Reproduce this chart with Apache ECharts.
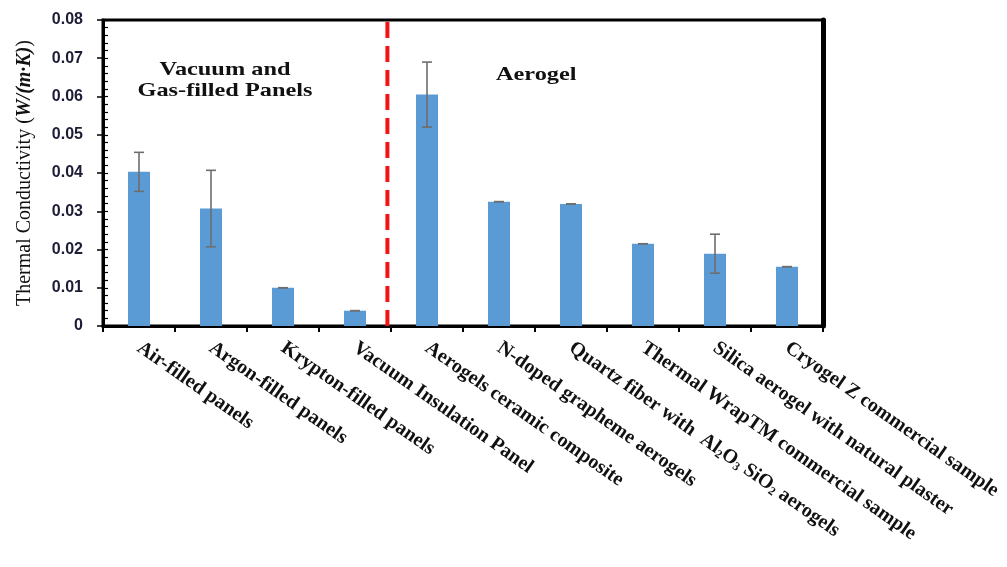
<!DOCTYPE html>
<html>
<head>
<meta charset="utf-8">
<script src="https://cdn.jsdelivr.net/npm/echarts@6/dist/echarts.min.js"></script>
<style>
  html, body { margin: 0; padding: 0; background: #ffffff; }
  #chart { width: 1007px; height: 567px; }
</style>
</head>
<body>
<div id="chart"></div>
<script>
// Thermal conductivity of insulation materials, W/(m·K)
const categories = [
  'Air-filled panels',
  'Argon-filled panels',
  'Krypton-filled panels',
  'Vacuum Insulation Panel',
  'Aerogels ceramic composite',
  'N-doped grapheme aerogels',
  'Quartz fiber with  Al2O3 SiO2 aerogels',
  'Thermal WrapTM commercial sample',
  'Silica aerogel with natural plaster',
  'Cryogel Z commercial sample'
];
const conductivity = [0.0403, 0.0307, 0.0100, 0.0040, 0.0605, 0.0325, 0.0319, 0.0215, 0.0189, 0.0155];
const errorMargin  = [0.0051, 0.0100, 0.0000, 0.0000, 0.0085, 0.0000, 0.0000, 0.0000, 0.0051, 0.0000];
const yTicks = [0, 0.01, 0.02, 0.03, 0.04, 0.05, 0.06, 0.07, 0.08];
// boundary between panel-type and aerogel-type materials, in category units
const groupDivider = 3.95;

const chart = echarts.init(document.getElementById('chart'), null, { renderer: 'canvas' });

const yMin = yTicks[0];
const yMax = yTicks[yTicks.length - 1];
const yStep = yTicks[1] - yTicks[0];

const errorData = conductivity.map((v, i) => [i, v - errorMargin[i], v + errorMargin[i]]);

function categoryLabel(value) {
  if (value.indexOf('Al2O3') >= 0) {
    return '{t|Quartz fiber with  Al}{s|2}{t|O}{s|3}{t| SiO}{s|2}{t| aerogels}';
  }
  return '{t|' + value + '}';
}

const serif = 'Liberation Serif';

const option = {
  animation: false,
  backgroundColor: '#ffffff',
  grid: {
    left: 103, right: 184, top: 20, bottom: 241, containLabel: false,
    show: true, backgroundColor: 'transparent', borderColor: '#000', borderWidth: 3
  },
  xAxis: [
    {
      type: 'category',
      data: categories,
      position: 'bottom',
      axisLine: { show: true, lineStyle: { color: '#000', width: 3 } },
      axisTick: { show: true, alignWithLabel: false, length: 6, lineStyle: { color: '#000', width: 2 } },
      axisLabel: {
        interval: 0,
        rotate: -35,
        margin: 20,
        formatter: categoryLabel,
        rich: {
          t: { fontFamily: serif, fontWeight: 'bold', fontSize: 20, color: '#111' },
          s: { fontFamily: serif, fontWeight: 'bold', fontSize: 12, color: '#111', verticalAlign: 'bottom', padding: [9, 0, 0, 0] }
        }
      },
      splitLine: { show: false }
    },
    {
      type: 'value',
      min: 0,
      max: categories.length,
      position: 'top',
      axisLine: { show: true, onZero: false, lineStyle: { color: '#000', width: 2 } },
      axisTick: { show: false },
      axisLabel: { show: false },
      splitLine: { show: false }
    }
  ],
  yAxis: [
    {
      type: 'value',
      min: yMin,
      max: yMax,
      interval: yStep,
      position: 'left',
      name: '{r|Thermal Conductivity (}{i|W/(m·K)}{r|)}',
      nameLocation: 'middle',
      nameGap: 68,
      nameRotate: 90,
      nameTextStyle: {
        rich: {
          r: { fontFamily: serif, fontSize: 20, color: '#111' },
          i: { fontFamily: serif, fontSize: 20, fontWeight: 'bold', fontStyle: 'italic', color: '#111' }
        }
      },
      axisLine: { show: true, onZero: false, lineStyle: { color: '#000', width: 3 } },
      axisTick: { show: true, inside: false, length: 6, lineStyle: { color: '#000', width: 1.5 } },
      axisLabel: {
        margin: 20,
        fontFamily: 'Liberation Sans',
        fontWeight: 'bold',
        fontSize: 16,
        color: '#1c1c36',
        formatter: v => (v === 0 ? '0' : v.toFixed(2))
      },
      splitLine: { show: false }
    },
    {
      type: 'value',
      min: yMin,
      max: yMax,
      position: 'right',
      axisLine: { show: true, onZero: false, lineStyle: { color: '#000', width: 5 } },
      axisTick: { show: false },
      axisLabel: { show: false },
      splitLine: { show: false }
    },
    {
      // inner minor ticks along the left axis
      type: 'value',
      min: yMin,
      max: yMax,
      interval: yStep / 5,
      position: 'left',
      axisLine: { show: false },
      axisTick: { show: true, inside: true, length: 5, lineStyle: { color: '#000', width: 1.2 } },
      axisLabel: { show: false },
      splitLine: { show: false }
    }
  ],
  graphic: [
    {
      type: 'text',
      x: 225, y: 60,
      scaleX: 1.28,
      style: {
        text: 'Vacuum and\nGas-filled Panels',
        fontFamily: serif,
        fontWeight: 'bold',
        fontSize: 19,
        lineHeight: 21,
        fill: '#111',
        align: 'center',
        verticalAlign: 'top'
      }
    },
    {
      type: 'text',
      x: 496, y: 66,
      scaleX: 1.28,
      style: {
        text: 'Aerogel',
        fontFamily: serif,
        fontWeight: 'bold',
        fontSize: 19,
        fill: '#111',
        align: 'left',
        verticalAlign: 'top'
      }
    }
  ],
  series: [
    {
      type: 'bar',
      xAxisIndex: 0,
      yAxisIndex: 0,
      data: conductivity,
      barWidth: 22,
      itemStyle: { color: '#5b9bd5' },
      z: 2
    },
    {
      type: 'custom',
      xAxisIndex: 0,
      yAxisIndex: 0,
      data: errorData,
      z: 5,
      renderItem: function (params, api) {
        const c = api.value(0);
        const lo = api.coord([c, api.value(1)]);
        const hi = api.coord([c, api.value(2)]);
        const half = 5;
        const style = { stroke: '#6e6e6e', lineWidth: 1.6 };
        return {
          type: 'group',
          children: [
            { type: 'line', shape: { x1: hi[0], y1: hi[1], x2: lo[0], y2: lo[1] }, style: style },
            { type: 'line', shape: { x1: hi[0] - half, y1: hi[1], x2: hi[0] + half, y2: hi[1] }, style: style },
            { type: 'line', shape: { x1: lo[0] - half, y1: lo[1], x2: lo[0] + half, y2: lo[1] }, style: style }
          ]
        };
      }
    },
    {
      type: 'line',
      xAxisIndex: 1,
      yAxisIndex: 0,
      data: [[groupDivider, yMin], [groupDivider, yMax]],
      symbol: 'none',
      lineStyle: { color: '#f01414', width: 4, type: [16, 8] },
      z: 3
    }
  ]
};

chart.setOption(option);
</script>
</body>
</html>
